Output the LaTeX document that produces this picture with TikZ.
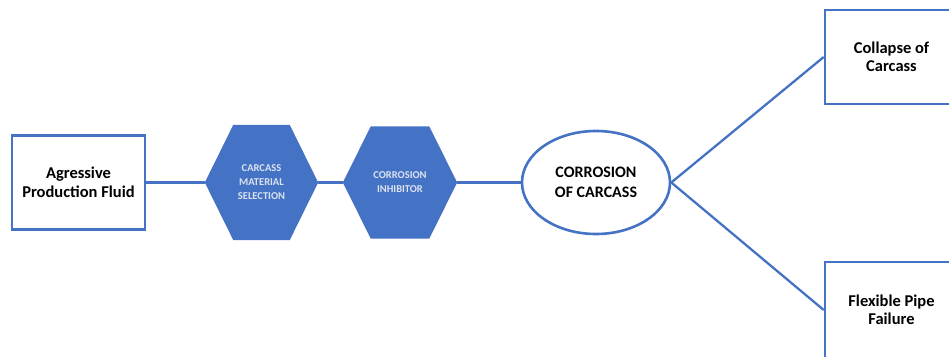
\documentclass[tikz,border=0pt]{standalone}
\usepackage{fontspec}
\setmainfont{Carlito}
\usetikzlibrary{shapes.geometric,calc}
\definecolor{obl}{HTML}{4472C4}
\definecolor{htxt}{HTML}{DCE3F0}
\pgfdeclarelayer{bg}
\pgfsetlayers{bg,main}
\tikzset{
  x=1pt,y=1pt,
  conn/.style={draw=obl,line width=2.3pt},
  boxnode/.style={draw=obl,line width=2.6pt,fill=white,rectangle,inner sep=0pt,
     align=center,text=black,font=\bfseries\fontsize{16.5}{18.5}\selectfont},
  hexnode/.style={rectangle,inner sep=0pt,minimum width=113pt,minimum height=115pt,
     align=center,text=htxt,font=\bfseries\fontsize{10.5}{14}\selectfont},
  ellnode/.style={ellipse,draw=obl,line width=2.6pt,fill=white,inner sep=0pt,
     minimum width=148pt,minimum height=103pt,align=center,text=black,
     font=\bfseries\fontsize{16}{20}\selectfont},
  hexfill/.style={fill=obl}
}
\begin{document}
\begin{tikzpicture}
\useasboundingbox (0,0) rectangle (949,356);
\clip (0,0) rectangle (949,356);
\node[boxnode,minimum width=133pt,minimum height=94pt] (A) at (78.5,173.5) {Agressive\\Production Fluid};
\node[hexnode] (H1) at (261.5,173.5) {CARCASS\\MATERIAL\\SELECTION};
\node[hexnode,minimum width=114pt,minimum height=112pt] (H2) at (400,173.5) {CORROSION\\INHIBITOR};
\node[ellnode] (E) at (596,173.5) {CORROSION\\OF CARCASS};
\node[boxnode,minimum width=133pt,minimum height=94pt] (T) at (891.5,299) {Collapse of\\Carcass};
\node[boxnode,minimum width=133pt,minimum height=96pt] (B) at (891.5,46) {Flexible Pipe\\Failure};
\begin{pgfonlayer}{bg}
\foreach \h/\c in {H1/28.5,H2/28}{
  \fill[hexfill] (\h.west) -- ($(\h.north west)+(\c,0)$) -- ($(\h.north east)+(-\c,0)$)
     -- (\h.east) -- ($(\h.south east)+(-\c,0)$) -- ($(\h.south west)+(\c,0)$) -- cycle;
}
\draw[conn] (A.east) -- (H1.west);
\draw[conn] (H1.east) -- (H2.west);
\draw[conn] (H2.east) -- (E.west);
\draw[conn] (E.east) -- (T.west);
\draw[conn] (E.east) -- (B.west);
\end{pgfonlayer}
\end{tikzpicture}
\end{document}
